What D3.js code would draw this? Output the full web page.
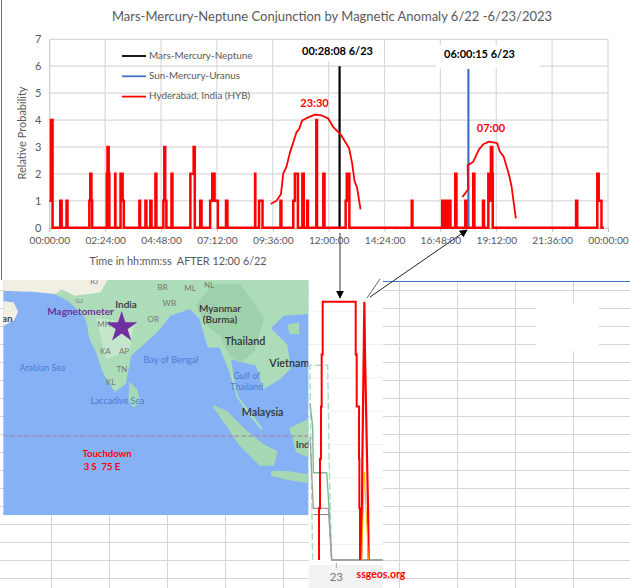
<!DOCTYPE html>
<html><head><meta charset="utf-8">
<script src="https://cdn.jsdelivr.net/npm/d3@7/dist/d3.min.js"></script>
<style>html,body{margin:0;padding:0;background:#fff}svg{display:block}text{font-family:Lato,"Open Sans",sans-serif;white-space:pre}</style>
</head><body><svg id="c" width="630" height="588"></svg>
<script>
// ---- main chart data (hours after 12:00 6/22; step series)
const hybTime=[0,.07,.14,.47,.53,.74,.78,1.72,1.76,1.81,1.84,2.47,2.5,2.55,2.58,2.83,2.84,3.06,3.15,3.2,3.87,3.9,4.13,4.17,4.34,4.39,4.56,4.6,4.9,4.94,4.98,5.03,5.25,5.29,6.06,6.2,6.25,6.48,6.54,6.91,7.0,7.1,7.24,7.59,7.65,8.84,8.85,9.01,9.16,9.93,9.97,10.48,10.55,10.68,10.87,10.93,11.08,11.11,11.47,11.5,11.77,11.82,12.73,12.78,12.89,15.57,15.6,16.88,16.96,17.02,17.06,17.12,17.23,17.44,17.49,17.87,17.92,18.21,18.26,18.63,18.67,18.86,18.93,18.97,19.03,19.05,22.63,22.68,23.54,23.6,23.72,23.82];
const hybValue=[1,4,0,1,0,1,0,1,2,1,0,2,3,2,0,2,0,2,1,0,1,0,1,0,1,0,2,0,1,3,1,0,2,0,2,3,0,1,0,1,2,1,0,1,0,2,0,1,0,1,0,1,2,0,2,0,1,0,4,0,2,0,1,2,0,1,0,1,0,1,0,1,0,2,0,1,0,2,0,1,0,2,1,3,2,0,1,0,2,1,0,0];
const curve1Time=[9.51,9.76,9.95,10.05,10.19,10.33,10.62,10.73,10.86,11.12,11.41,11.7,11.98,12.19,12.51,12.88,13.01,13.11,13.22,13.37];
const curve1Value=[.88,1,1.24,2.02,2.27,2.77,3.55,3.66,3.98,4.1,4.2,4.17,4.06,3.75,3.47,2.95,2.39,1.74,1.5,.68];
const curve2Time=[17.75,17.99,17.97,18.2,18.46,18.64,18.89,19.24,19.35,19.52,19.75,19.86,20.04];
const curve2Value=[1.14,1.43,2.32,2.44,2.91,3.1,3.2,3.14,2.83,2.64,1.96,1.52,.35];
const conjTime=[12.469,18.004];
const conjTop=[6,5.9];
const seriesNames=["Mars-Mercury-Neptune","Sun-Mercury-Uranus","Hyderabad, India (HYB)"];
const seriesColors=["#000000","#4472c4","#ff0000"];
const yTicks=[0,1,2,3,4,5,6,7];
// ---- inset chart data
const insetRedA=[[57,0],[57,1],[60,1.96],[63,2.97],[65,3.98],[68,5],[167,5],[167,3.98],[170,2.97],[177,1.96],[178,1],[180,0]];
const insetRedB=[[183,0],[186,1],[187,1.96],[189,2.97],[191,3.98],[193,5],[195,3.98],[198,2.97],[201,1.96],[204,1],[206,0]];
const insetPale=[[38,0],[30,3.42],[30,3.77],[83,3.77],[88,1.74],[95,0],[248,0]];
const insetGreen=[[30,3.03],[38,2.58],[40,1.69],[80,1.69],[85,1.23],[95,0],[248,0]];
const insetGray=[[30,2.39],[40,1],[85,1],[95,0],[248,0]];
const insetGray2=[[40,.88],[85,.88]];
const insetOrange=[[185,0],[193,1.7],[205,0]];
// ---- map outlines (map units)
const landMain=[[10,15],[10,45],[100,48],[165,55],[205,75],[230,100],[255,125],[262,145],[270,190],[290,230],[310,290],[345,348],[375,325],[392,240],[420,215],[470,170],[510,120],[570,100],[600,130],[625,215],[660,215],[690,290],[715,370],[770,440],[785,462],[745,415],[712,365],[700,310],[690,250],[770,270],[790,340],[840,310],[870,280],[860,210],[810,160],[850,120],[925,115],[925,15]];
const landBeige=[[10,15],[10,45],[100,48],[165,55],[185,40],[225,60],[300,50],[320,15]];
const landOman=[[10,80],[40,85],[52,110],[40,135],[10,150]];
const landLanka=[[390,325],[410,345],[418,380],[400,395],[388,375]];
const landSumatra=[[640,393],[680,410],[740,470],[790,510],[830,530],[820,570],[780,570],[720,510],[680,450]];
const landJava=[[815,590],[860,590],[925,600],[925,622],[860,612],[815,600]];
const landBorneo=[[870,460],[925,435],[925,545],[890,530],[880,490]];
const landHainan=[[865,150],[895,145],[895,175],[870,175]];
const landDark=[[590,90],[640,30],[720,30],[790,130],[760,230],[720,260],[690,240],[660,180],[620,150]];
const landDeccan=[[290,130],[400,150],[385,225],[320,250]];
const mapLabels=[["India",378,90,25,"#333",600],["Myanmar",660,102,25,"#333",600],["(Burma)",660,137,25,"#333",600],["Thailand",735,203,27,"#333",600],["Vietnam",868,268,27,"#333",600],["Malaysia",788,414,27,"#333",600],["Ind",908,511,25,"#333",600],["an",22,134,25,"#333",600],
["Arabian Sea",127,281,22,"#4a7bd0",400],["Bay of Bengal",513,257,23,"#4a7bd0",400],["Gulf of",740,306,22,"#4a7bd0",400],["Thailand",740,338,22,"#4a7bd0",400],["Laccadive Sea",352,380,22,"#4a7bd0",400],
["RJ",283,22,19,"#777",400],["GJ",237,78,16,"#777",400],["BR",487,40,20,"#777",400],["ML",570,42,20,"#777",400],["NL",627,33,20,"#777",400],["WB",508,87,20,"#777",400],["OR",460,135,20,"#777",400],["MH",312,150,20,"#777",400],["KA",316,232,20,"#777",400],["AP",372,230,20,"#777",400],["TN",366,286,20,"#777",400],["KL",332,323,20,"#777",400]];

const svg=d3.select("#c");
const GRID="#d9d9d9",TXT="#595959";
const x=d3.scaleLinear().domain([0,24]).range([49.3,608]);
const y=d3.scaleLinear().domain([0,7]).range([227.7,39.3]);
const fmt=h=>{const m=Math.round(h*60)%1440;return d3.format("02")(Math.floor(m/60))+":"+d3.format("02")(m%60)+":00"};

// spreadsheet background
const sheet=svg.append("g").attr("stroke","#d4d4d4").attr("stroke-width",1);
d3.range(290.5,588,18).forEach(v=>sheet.append("line").attr("x1",0).attr("x2",630).attr("y1",v).attr("y2",v));
d3.range(51.5,630,58).forEach(v=>sheet.append("line").attr("x1",v).attr("x2",v).attr("y1",281).attr("y2",588));
svg.append("rect").attr("x",536).attr("y",303).attr("width",63).attr("height",48).attr("fill","#fff");
svg.append("line").attr("x1",383).attr("x2",630).attr("y1",281.5).attr("y2",281.5).attr("stroke","#4472c4");
svg.append("line").attr("x1",1.5).attr("x2",1.5).attr("y1",0).attr("y2",280).attr("stroke","#4472c4");

// gridlines
const grid=svg.append("g").attr("stroke",GRID).attr("stroke-width",1.2);
yTicks.slice(1).forEach(v=>grid.append("line").attr("x1",x(0)).attr("x2",x(24)).attr("y1",y(v)).attr("y2",y(v)));
const majors=d3.range(0,24.01,2.4);
majors.slice(1).forEach(v=>grid.append("line").attr("x1",x(v)).attr("x2",x(v)).attr("y1",y(0)).attr("y2",y(7)));
// label masks
svg.append("rect").attr("x",298).attr("y",40).attr("width",86).attr("height",21).attr("fill","#fff");
svg.append("rect").attr("x",436).attr("y",45).attr("width",104).attr("height",23.5).attr("fill","#fff");

// axes
const xAxis=svg.append("g").attr("transform",`translate(0,${y(0)})`)
 .call(d3.axisBottom(x).tickValues(majors).tickFormat(fmt).tickSize(4).tickPadding(5));
xAxis.select(".domain").attr("stroke","#bfbfbf");
xAxis.selectAll("line").attr("stroke","#bfbfbf");
xAxis.selectAll("text").attr("fill",TXT).attr("font-size",10.2);
svg.append("g").attr("transform",`translate(0,${y(0)})`)
 .call(d3.axisBottom(x).tickValues(d3.range(0,24.01,.48)).tickFormat("").tickSize(2))
 .call(g=>g.select(".domain").remove()).selectAll("line").attr("stroke","#bfbfbf");
const yAxis=svg.append("g").attr("transform",`translate(${x(0)},0)`)
 .call(d3.axisLeft(y).tickValues(yTicks).tickFormat(d3.format("d")).tickSize(0).tickPadding(8));
yAxis.select(".domain").attr("stroke","#bfbfbf");
yAxis.selectAll("text").attr("fill",TXT).attr("font-size",11);

// series
const step=d3.line().x(d=>x(d[0])).y(d=>y(d[1])).curve(d3.curveStepAfter);
const plain=d3.line().x(d=>x(d[0])).y(d=>y(d[1]));
conjTime.forEach((t,i)=>svg.append("line").attr("x1",x(t)).attr("x2",x(t)).attr("y1",y(conjTop[i])).attr("y2",y(0))
 .attr("stroke",seriesColors[i]).attr("stroke-width",2.2));
svg.append("path").attr("d",step(d3.zip(hybTime,hybValue))).attr("fill","none").attr("stroke",seriesColors[2]).attr("stroke-width",2.5).attr("stroke-linejoin","miter");
[[curve1Time,curve1Value],[curve2Time,curve2Value]].forEach(([t,v])=>
 svg.append("path").attr("d",plain(d3.zip(t,v))).attr("fill","none").attr("stroke","#ff0000").attr("stroke-width",1.8).attr("stroke-linejoin","round"));

// titles and labels
const label=(s,px,py,o={})=>svg.append("text").attr("x",px).attr("y",py).attr("text-anchor",o.a||"middle")
 .attr("fill",o.c||TXT).attr("font-size",o.s||11).attr("font-weight",o.w||400).attr("dominant-baseline","middle").text(s);
label("Mars-Mercury-Neptune Conjunction by Magnetic Anomaly 6/22 -6/23/2023",332,18,{s:13});
label("Time in hh:mm:ss  AFTER 12:00 6/22",178,262,{s:10.8});
svg.append("text").attr("transform","translate(23,133) rotate(-90)").attr("text-anchor","middle").attr("dominant-baseline","middle").attr("fill",TXT).attr("font-size",11).text("Relative Probability");
seriesNames.forEach((n,i)=>{const ly=56+i*20.3;
 svg.append("line").attr("x1",122).attr("x2",146).attr("y1",ly).attr("y2",ly).attr("stroke",seriesColors[i]).attr("stroke-width",1.8);
 label(n,149,ly,{a:"start",s:9.9});});
label("23:30",314.5,104,{c:"#ff0000",s:11,w:700});
label("07:00",491,129,{c:"#ff0000",s:11,w:700});
label("00:28:08 6/23",337.5,52,{c:"#000",s:11,w:700});
label("06:00:15 6/23",479.5,55,{c:"#000",s:11,w:700});

// map
const mx=d3.scaleLinear().domain([0,930]).range([0,310]);
const my=d3.scaleLinear().domain([0,750]).range([275,525]);
const poly=d3.line().x(d=>mx(d[0])).y(d=>my(d[1])).curve(d3.curveLinearClosed);
svg.append("rect").attr("x",mx(10)).attr("y",my(15)).attr("width",mx(925)-mx(10)).attr("height",my(720)-my(15)).attr("fill","#86b2f5");
svg.append("clipPath").attr("id","mc").append("rect").attr("x",mx(10)).attr("y",my(15)).attr("width",mx(925)-mx(10)).attr("height",my(720)-my(15));
const m=svg.append("g").attr("clip-path","url(#mc)");
[[landMain,"#acdcb8"],[landBeige,"#f1eee3"],[landOman,"#f1eee3"],[landLanka,"#a6d8b3"],[landSumatra,"#a6d8b3"],[landJava,"#a6d8b3"],[landBorneo,"#a6d8b3"],[landHainan,"#a6d8b3"],[landDark,"#9ed1ab"],[landDeccan,"#c6e6cb"]]
 .forEach(([p,c])=>m.append("path").attr("d",poly(p)).attr("fill",c).attr("stroke",c).attr("stroke-width",1.5).attr("stroke-linejoin","round"));
mapLabels.forEach(([s,a,b,z,c,w])=>m.append("text").attr("x",mx(a)).attr("y",my(b)).attr("text-anchor","middle").attr("dominant-baseline","middle")
 .attr("font-size",z/3*1.2).attr("fill",c).attr("font-weight",w).text(s));
m.append("line").attr("x1",mx(10)).attr("x2",mx(925)).attr("y1",my(483)).attr("y2",my(483)).attr("stroke","#a87f9c").attr("stroke-width",1).attr("stroke-dasharray","5 2");
m.append("path").attr("transform",`translate(${mx(365)},${my(157)})`).attr("d",d3.symbol(d3.symbolStar,300)()).attr("fill","#7030a0");
label("Magnetometer",80.5,312,{c:"#7030a0",s:10,w:700});
label("Touchdown",107,454.5,{c:"#ff0000",s:9.5,w:700});
label("3 S  75 E",102,468,{c:"#ff0000",s:9.5,w:700});

// inset chart
const ix=d3.scaleLinear().domain([0,248]).range([300,382.7]);
const iy=d3.scaleLinear().domain([0,5]).range([560,301.7]);
svg.append("rect").attr("x",309).attr("y",280).attr("width",74).attr("height",285).attr("fill","#fff");
svg.append("rect").attr("x",309).attr("y",565).attr("width",74).attr("height",23).attr("fill","#f3f3f3");
const faint=svg.append("g").attr("stroke","#f2f2f2");
d3.range(.3,5.4,.645).forEach(v=>faint.append("line").attr("x1",309).attr("x2",383).attr("y1",iy(v)).attr("y2",iy(v)));
const il=d3.line().x(d=>ix(d[0])).y(d=>iy(d[1]));
const ip=(d,c,w,dash,cv)=>svg.append("path").attr("d",(cv?il.curve(cv):il.curve(d3.curveLinear))(d)).attr("fill","none").attr("stroke",c).attr("stroke-width",w).attr("stroke-dasharray",dash||null);
ip(insetPale,"#a8dfc3",1.4,"7 3");
ip(insetGreen,"#7cbb8c",1.4);
ip(insetGray,"#9e9e9e",1.3);
ip(insetGray2,"#8a8a8a",1.1);
ip(insetRedA,"#ff0000",2,null,d3.curveStepAfter);
ip(insetRedB,"#ff0000",2.2);
ip(insetOrange,"#ffb300",1);
svg.append("line").attr("x1",ix(109)).attr("x2",ix(109)).attr("y1",563).attr("y2",568).attr("stroke","#aaa");
label("23",336.3,578,{s:11.5,c:"#757575"});
label("ssgeos.org",381,575.5,{s:10.5,c:"#ff0000",w:700});

// arrows
const defs=svg.append("defs");
defs.append("marker").attr("id","ah").attr("viewBox","0 0 10 10").attr("refX",9).attr("refY",5).attr("markerWidth",8).attr("markerHeight",8).attr("orient","auto")
 .append("path").attr("d","M0,0L10,5L0,10z").attr("fill","#000");
svg.append("line").attr("x1",340).attr("y1",233).attr("x2",340).attr("y2",298).attr("stroke","#333").attr("stroke-width",1).attr("marker-end","url(#ah)");
svg.append("line").attr("x1",370).attr("y1",297).attr("x2",467).attr("y2",230).attr("stroke","#222").attr("stroke-width",1).attr("marker-end","url(#ah)");
svg.append("line").attr("x1",367).attr("y1",298).attr("x2",380).attr("y2",279).attr("stroke","#666").attr("stroke-width",1);
</script></body></html>
